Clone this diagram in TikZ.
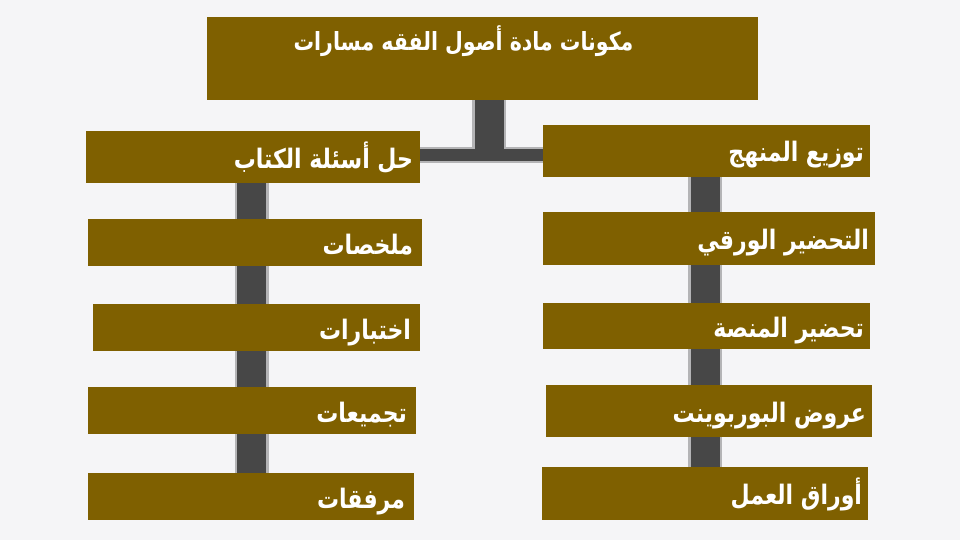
\documentclass[tikz,border=0pt]{standalone}
\usepackage{fontspec}
\usepackage{graphicx}
\newfontfamily\arabicfont[Script=Arabic]{DejaVu Sans}
\TeXXeTstate=1
\usetikzlibrary{backgrounds,calc}
\definecolor{boxfill}{HTML}{7F6000}
\definecolor{trunkc}{HTML}{474747}
\definecolor{trunkedge}{HTML}{B4B4B6}
\definecolor{bgc}{HTML}{F5F5F7}
\newcommand{\artxt}[1]{\scalebox{1}[1.22]{\beginR #1\endR}}
\tikzset{
  box/.style={fill=boxfill, draw=none, inner sep=0pt},
  lbl/.style={text=white, inner sep=0pt, font=\arabicfont\bfseries\fontsize{22}{26}\selectfont},
  toplbl/.style={text=white, inner sep=0pt, font=\arabicfont\bfseries\fontsize{20.5}{25}\selectfont},
  trunkhalo/.style={draw=trunkedge, line width=34pt},
  trunkcore/.style={draw=trunkc, line width=29pt},
  barhalo/.style={draw=trunkedge, line width=16pt},
  barcore/.style={draw=trunkc, line width=12pt}
}
\begin{document}
\begin{tikzpicture}[x=1pt,y=-1pt]
\path[use as bounding box] (0,0) rectangle (960,540);
% boxes
\node[box, minimum width=551pt, minimum height=83pt] (T) at (482.5,58.5) {};
\node[box, minimum width=334pt, minimum height=52pt] (L1) at (253,157) {};
\node[box, minimum width=334pt, minimum height=47pt] (L2) at (255,242.5) {};
\node[box, minimum width=327pt, minimum height=47pt] (L3) at (256.5,327.5) {};
\node[box, minimum width=328pt, minimum height=47pt] (L4) at (252,410.5) {};
\node[box, minimum width=326pt, minimum height=47pt] (L5) at (251,496.5) {};
\node[box, minimum width=327pt, minimum height=52pt] (R1) at (706.5,151) {};
\node[box, minimum width=332pt, minimum height=53pt] (R2) at (709,238.5) {};
\node[box, minimum width=327pt, minimum height=46pt] (R3) at (706.5,326) {};
\node[box, minimum width=326pt, minimum height=52pt] (R4) at (709,411) {};
\node[box, minimum width=326pt, minimum height=53pt] (R5) at (705,493.5) {};
% texts
\node[toplbl, anchor=base] (Tt) at ([xshift=-19pt,yshift=8pt]T.center) {\artxt{مكونات مادة أصول الفقه مسارات}};
\node[lbl, anchor=base east] (L1t) at ([xshift=-7pt,yshift=-12pt]L1.east) {\artxt{حل أسئلة الكتاب}};
\node[lbl, anchor=base east] (L2t) at ([xshift=-9pt,yshift=-12pt]L2.east) {\artxt{ملخصات}};
\node[lbl, anchor=base east] (L3t) at ([xshift=-9pt,yshift=-12pt]L3.east) {\artxt{اختبارات}};
\node[lbl, anchor=base east] (L4t) at ([xshift=-9pt,yshift=-12pt]L4.east) {\artxt{تجميعات}};
\node[lbl, anchor=base east] (L5t) at ([xshift=-9pt,yshift=-12pt]L5.east) {\artxt{مرفقات}};
\node[lbl, anchor=base east] (R1t) at ([xshift=-6pt,yshift=-11pt]R1.east) {\artxt{توزيع المنهج}};
\node[lbl, anchor=base east] (R2t) at ([xshift=-6pt,yshift=-11pt]R2.east) {\artxt{التحضير الورقي}};
\node[lbl, anchor=base east] (R3t) at ([xshift=-6pt,yshift=-11pt]R3.east) {\artxt{تحضير المنصة}};
\node[lbl, anchor=base east] (R4t) at ([xshift=-6pt,yshift=-11pt]R4.east) {\artxt{عروض البوربوينت}};
\node[lbl, anchor=base east] (R5t) at ([xshift=-6pt,yshift=-11pt]R5.east) {\artxt{أوراق العمل}};
% guide coordinates
\coordinate (tx) at (489,0);
\coordinate (lx) at (251.5,0);
\coordinate (rx) at (705,0);
\coordinate (hy) at (0,155);
\begin{scope}[on background layer]
\fill[bgc] (0,0) rectangle (960,540);
\draw[barhalo] (L1.east |- hy) -- (R1.west |- hy);
\draw[trunkhalo] (T.south -| tx) -- ([yshift=-6pt]hy -| tx);
\draw[trunkhalo] (L1.south -| lx) -- (L5.north -| lx);
\draw[trunkhalo] (R1.south -| rx) -- (R5.north -| rx);
\draw[barcore] (L1.east |- hy) -- (R1.west |- hy);
\draw[trunkcore] (T.south -| tx) -- ([yshift=-6pt]hy -| tx);
\draw[trunkcore] (L1.south -| lx) -- (L5.north -| lx);
\draw[trunkcore] (R1.south -| rx) -- (R5.north -| rx);
\end{scope}
\end{tikzpicture}
\end{document}
